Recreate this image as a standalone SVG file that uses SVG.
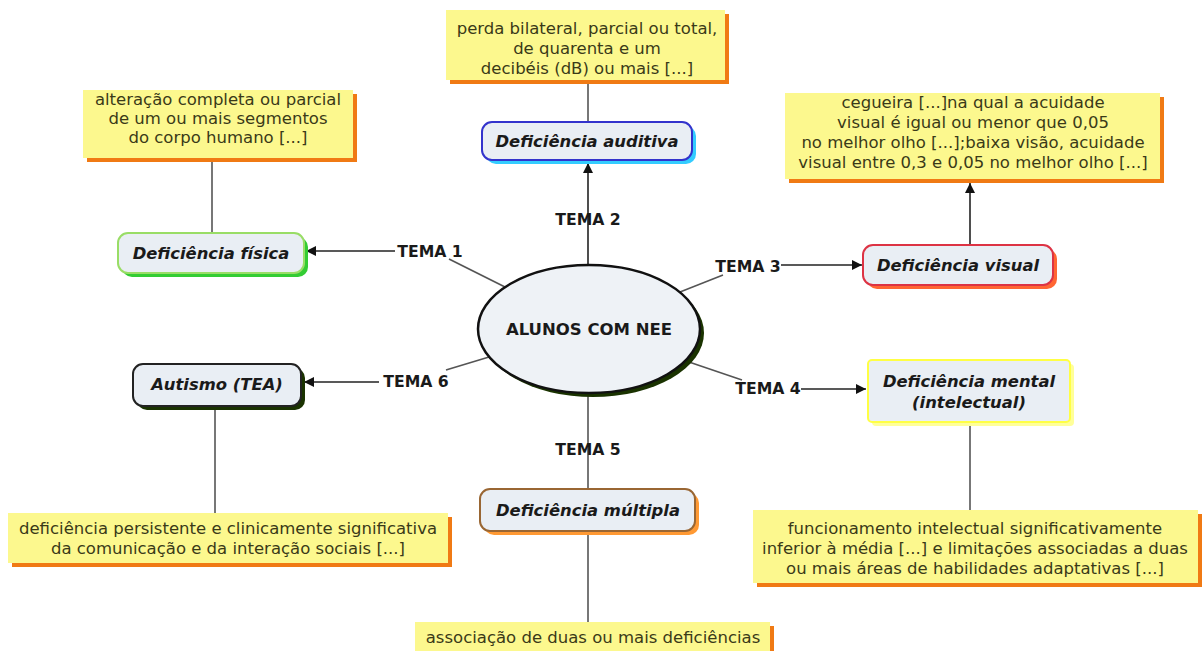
<svg xmlns="http://www.w3.org/2000/svg" width="1202" height="651" viewBox="0 0 1202 651">
<defs>
<marker id="ah" viewBox="0 0 10 10" refX="10" refY="5" markerWidth="10" markerHeight="10" markerUnits="userSpaceOnUse" orient="auto">
<path d="M0,0 L10,5 L0,10 z" fill="#111"/>
</marker>
<style>
.desc{fill:#fcf88e;}
.dsh{fill:#f07a14;}
.dt{font-family:"DejaVu Sans",Verdana,sans-serif;font-size:16.5px;fill:#3a3a18;text-anchor:middle;}
.node{fill:#e9eef4;stroke-width:2;}
.nt{font-family:"DejaVu Sans",Verdana,sans-serif;font-size:16.4px;font-weight:bold;font-style:italic;fill:#1a1a1a;text-anchor:middle;}
.lab{font-family:"DejaVu Sans",Verdana,sans-serif;font-size:15.7px;font-weight:bold;fill:#1a1a1a;text-anchor:middle;}
.ln{stroke:#555;stroke-width:1.6;fill:none;}
.ar{stroke:#222;stroke-width:1.6;fill:none;marker-end:url(#ah);}
</style>
</defs>
<rect width="1202" height="651" fill="#ffffff"/>

<g id="connectors">
<line class="ln" x1="588" y1="82" x2="588" y2="122"/>
<line class="ln" x1="212" y1="160" x2="212" y2="233"/>
<line class="ar" x1="970" y1="245" x2="970" y2="183"/>
<line class="ln" x1="215" y1="407" x2="215" y2="513"/>
<line class="ln" x1="970" y1="424" x2="970" y2="510"/>
<line class="ln" x1="588" y1="533" x2="588" y2="622"/>
<line class="ar" x1="588" y1="265" x2="588" y2="163"/>
<line class="ln" x1="449" y1="259" x2="505" y2="287"/>
<line class="ar" x1="395" y1="251" x2="306" y2="251"/>
<line class="ln" x1="723" y1="275" x2="680" y2="292"/>
<line class="ar" x1="781" y1="265" x2="862" y2="265"/>
<line class="ln" x1="742" y1="380" x2="686" y2="361"/>
<line class="ar" x1="801" y1="389" x2="866" y2="389"/>
<line class="ln" x1="588" y1="393" x2="588" y2="489"/>
<line class="ln" x1="446" y1="370" x2="489" y2="357"/>
<line class="ar" x1="379" y1="382" x2="304" y2="382"/>
</g>

<g id="desc-auditiva">
<rect class="dsh" x="450" y="14" width="279" height="70"/>
<rect class="desc" x="446" y="10" width="279" height="70"/>
<text class="dt" x="587" y="34">perda bilateral, parcial ou total,</text>
<text class="dt" x="587" y="54">de quarenta e um</text>
<text class="dt" x="587" y="74">decibéis (dB) ou mais [...]</text>
</g>

<g id="node-auditiva">
<rect x="486" y="126" width="210" height="38" rx="10" fill="#33ccff"/>
<rect class="node" x="482" y="122" width="210" height="38" rx="10" stroke="#3333cc"/>
<text class="nt" x="587" y="147">Deficiência auditiva</text>
</g>

<g id="desc-fisica">
<rect class="dsh" x="87" y="94" width="270" height="68"/>
<rect class="desc" x="83" y="90" width="270" height="68"/>
<text class="dt" x="218" y="105">alteração completa ou parcial</text>
<text class="dt" x="218" y="124">de um ou mais segmentos</text>
<text class="dt" x="218" y="143">do corpo humano [...]</text>
</g>

<g id="node-fisica">
<rect x="122" y="237" width="186" height="40" rx="10" fill="#33cc33"/>
<rect class="node" x="118" y="233" width="186" height="40" rx="10" stroke="#99dd66"/>
<text class="nt" x="211" y="259">Deficiência física</text>
</g>

<g id="desc-visual">
<rect class="dsh" x="789" y="97" width="375" height="86"/>
<rect class="desc" x="785" y="93" width="375" height="86"/>
<text class="dt" x="973" y="108">cegueira [...]na qual a acuidade</text>
<text class="dt" x="973" y="128">visual é igual ou menor que 0,05</text>
<text class="dt" x="973" y="148">no melhor olho [...];baixa visão, acuidade</text>
<text class="dt" x="973" y="168">visual entre 0,3 e 0,05 no melhor olho [...]</text>
</g>

<g id="node-visual">
<rect x="867" y="249" width="190" height="40" rx="10" fill="#ff6633"/>
<rect class="node" x="863" y="245" width="190" height="40" rx="10" stroke="#dd3344"/>
<text class="nt" x="958" y="271">Deficiência visual</text>
</g>

<g id="node-center">
<ellipse cx="593" cy="333" rx="111" ry="64" fill="#1a3300"/>
<ellipse cx="589" cy="329" rx="111" ry="64" fill="#eef2f6" stroke="#111" stroke-width="2.5"/>
<text x="589" y="335" font-family="DejaVu Sans, Verdana, sans-serif" font-size="16.5" font-weight="bold" fill="#1a1a1a" text-anchor="middle">ALUNOS COM NEE</text>
</g>

<g id="node-autismo">
<rect x="137" y="368" width="168" height="42" rx="10" fill="#1a3300"/>
<rect class="node" x="133" y="364" width="168" height="42" rx="10" stroke="#222"/>
<text class="nt" x="217" y="390">Autismo (TEA)</text>
</g>

<g id="desc-autismo">
<rect class="dsh" x="12" y="517" width="440" height="50"/>
<rect class="desc" x="8" y="513" width="440" height="50"/>
<text class="dt" x="228" y="534">deficiência persistente e clinicamente significativa</text>
<text class="dt" x="228" y="554">da comunicação e da interação sociais [...]</text>
</g>

<g id="node-mental">
<rect x="872" y="364" width="202" height="62" rx="4" fill="#ffff99"/>
<rect class="node" x="868" y="360" width="202" height="62" rx="4" stroke="#ffff44"/>
<text class="nt" x="969" y="387">Deficiência mental</text>
<text class="nt" x="969" y="408">(intelectual)</text>
</g>

<g id="desc-mental">
<rect class="dsh" x="757" y="514" width="445" height="73"/>
<rect class="desc" x="753" y="510" width="445" height="73"/>
<text class="dt" x="975" y="534">funcionamento intelectual significativamente</text>
<text class="dt" x="975" y="554">inferior à média [...] e limitações associadas a duas</text>
<text class="dt" x="975" y="574">ou mais áreas de habilidades adaptativas [...]</text>
</g>

<g id="node-multipla">
<rect x="484" y="493" width="215" height="42" rx="10" fill="#ff9933"/>
<rect class="node" x="480" y="489" width="215" height="42" rx="10" stroke="#996633"/>
<text class="nt" x="588" y="516">Deficiência múltipla</text>
</g>

<g id="desc-multipla">
<rect class="dsh" x="419" y="626" width="355" height="35"/>
<rect class="desc" x="415" y="622" width="355" height="35"/>
<text class="dt" x="593" y="643">associação de duas ou mais deficiências</text>
</g>

<g id="labels">
<text class="lab" x="430" y="257">TEMA 1</text>
<text class="lab" x="588" y="225">TEMA 2</text>
<text class="lab" x="748" y="272">TEMA 3</text>
<text class="lab" x="768" y="394">TEMA 4</text>
<text class="lab" x="588" y="455">TEMA 5</text>
<text class="lab" x="416" y="387">TEMA 6</text>
</g>
</svg>
